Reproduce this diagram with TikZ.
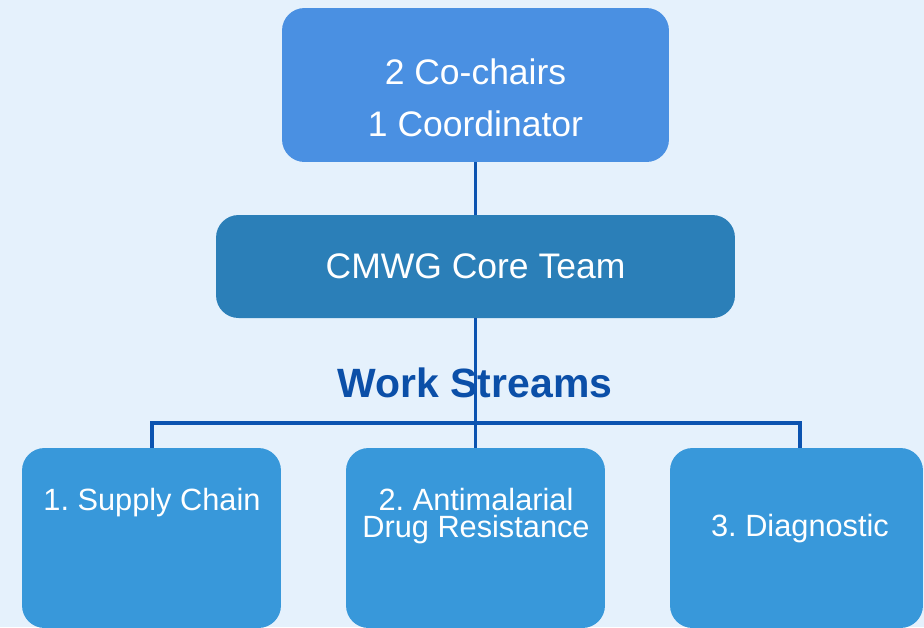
\documentclass[tikz,border=0pt]{standalone}
\usepackage{fontspec}
\setmainfont{Liberation Sans}
\frenchspacing
\definecolor{bgblue}{HTML}{E5F1FC}
\definecolor{topblue}{HTML}{4A90E2}
\definecolor{coreblue}{HTML}{2B7FB8}
\definecolor{wsblue}{HTML}{3898DA}
\definecolor{linkblue}{HTML}{0B53B0}
\definecolor{headblue}{HTML}{0B4FA8}
\tikzset{
  box/.style={fill=#1, rounded corners=0.45cm, inner sep=0pt},
  boxtext/.style={text=white, align=center, inner sep=0pt},
  link/.style={draw=linkblue, line width=2pt}
}
\begin{document}
\begin{tikzpicture}[x=0.02cm, y=-0.02cm]
	\fill[bgblue] (0,0) rectangle (924,627);
	\useasboundingbox (0,0) rectangle (924,627);
	\clip (0,0) rectangle (924,627);
	% heading under the links
	\node[text=headblue, font=\fontsize{23.3}{28}\selectfont\bfseries] (wshead) at (475,383) {Work Streams};
	% boxes
	\node[box=topblue, minimum width=7.74cm, minimum height=3.08cm] (top) at (475.5,85) {};
	\node[boxtext, font=\fontsize{20.2}{29.5}\selectfont] (toptxt) at (475.5,98) {2 Co-chairs\\1 Coordinator};
	\node[box=coreblue, minimum width=10.38cm, minimum height=2.06cm, text=white, font=\fontsize{20.2}{24}\selectfont] (core) at (475.5,266.5) {CMWG Core Team};
	\node[box=wsblue, minimum width=5.18cm, minimum height=3.6cm] (ws1) at (151.5,538) {};
	\node[box=wsblue, minimum width=5.18cm, minimum height=3.6cm] (ws2) at (475.5,538) {};
	\node[box=wsblue, minimum width=5.06cm, minimum height=3.6cm] (ws3) at (796.5,538) {};
	\node[boxtext, font=\fontsize{17.5}{15.3}\selectfont] (ws1txt) at (152,503) {1. Supply Chain};
	\node[boxtext, font=\fontsize{17.5}{15.3}\selectfont] (ws2txt) at (476,516) {2. Antimalarial\\Drug Resistance};
	\node[boxtext, font=\fontsize{17.5}{15.3}\selectfont] (ws3txt) at (800,529) {3. Diagnostic};
	% links
	\coordinate (drop1) at (152,448);
	\coordinate (drop3) at (800,448);
	\draw[link] (top.south) -- (core.north);
	\draw[link] (core.south) -- (ws2.north);
	\draw[link] (drop1) -- ++(0,-25) -| (drop3);
\end{tikzpicture}
\end{document}
